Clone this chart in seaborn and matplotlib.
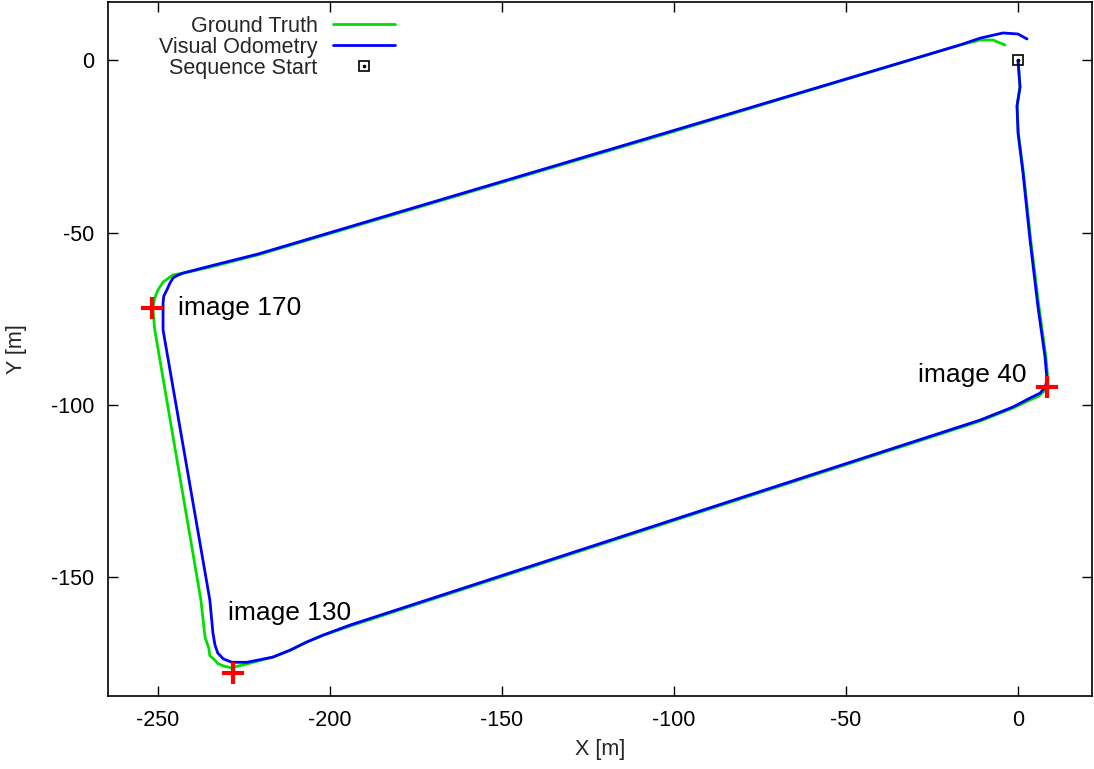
import numpy as np
import pandas as pd
import matplotlib
matplotlib.use("Agg")
import matplotlib.pyplot as plt
import seaborn as sns
from matplotlib.lines import Line2D
from matplotlib.legend_handler import HandlerTuple

# ---- data ----
vo_x = [0.0, 0.58, -0.29, 0.0, 1.45, 3.49, 5.81, 7.85, 8.43, 7.85, 6.40, 3.49, -1.45, -11.0,
        -100.6, -194.2, -202.0, -206.7, -211.6, -216.6, -224.1, -228.5, -231.0, -232.6, -233.4, -234.0, -234.9,
        -248.5, -248.5, -248.3, -247.4, -246.5, -245.6, -244.2, -242.7, -235.8, -220.9, -100.6, -16.9, -11.0,
        -4.36, 0.0, 2.62]
vo_y = [0.0, -7.7, -13.2, -21.1, -32.7, -52.2, -71.7, -86.2, -92.9, -94.9, -96.7, -98.1, -100.7, -104.5,
        -133.6, -164.1, -167.0, -169.0, -171.4, -173.4, -174.9, -174.9, -173.9, -172.2, -169.9, -166.4, -156.8,
        -78.3, -70.5, -68.5, -66.7, -64.7, -63.2, -62.4, -61.8, -60.0, -56.25, -20.5, 4.5, 6.5,
        8.0, 7.7, 6.25]

gt_x = [0.0, 0.58, -0.29, 0.1, 1.6, 3.7, 6.1, 8.1, 8.7, 8.5, 7.85, 6.1, 3.2, -1.45, -11.0,
        -100.6, -194.2, -202.0, -206.7, -211.6, -216.6, -223.8, -228.8, -230.8, -232.6, -233.4, -234.9,
        -235.2, -236.3, -237.5,
        -250.9, -251.5, -250.9, -250.0, -248.5, -245.6, -242.7, -235.8, -220.9, -100.6, -16.9, -11.0, -7.3, -3.8]
gt_y = [0.0, -7.7, -13.2, -21.1, -32.7, -52.2, -71.7, -86.2, -92.9, -94.5, -95.8, -97.5, -98.8, -101.0, -104.8,
        -133.9, -164.4, -167.1, -169.0, -171.4, -173.4, -175.3, -176.5, -176.0, -175.3, -174.3, -173.0,
        -170.8, -167.6, -156.8,
        -78.3, -72.0, -69.0, -66.7, -64.4, -62.3, -61.8, -60.3, -56.5, -20.8, 4.5, 5.95, 5.95, 4.5]

start_x = [0.0]
start_y = [0.0]

mark_labels = ["image 40", "image 130", "image 170"]
mark_x = [8.4, -228.2, -251.7]
mark_y = [-94.8, -178.0, -71.9]
label_x = [2.6, -229.7, -244.2]
label_y = [-91.4, -160.6, -71.9]
label_ha = ["right", "left", "left"]

x_ticks = [-250, -200, -150, -100, -50, 0]
y_ticks = [0, -50, -100, -150]

# ---- style ----
sns.set_style("ticks")
plt.rcParams['font.family'] = ['Liberation Sans', 'DejaVu Sans']
plt.rcParams['axes.unicode_minus'] = False
FS = 15.5

fig = plt.figure(figsize=(10.94, 7.69), dpi=100)
ax = fig.add_axes([108 / 1094, 1 - 696 / 769, (1092 - 108) / 1094, (696 - 2) / 769])

gt = pd.DataFrame({"x": gt_x, "y": gt_y})
vo = pd.DataFrame({"x": vo_x, "y": vo_y})

GREEN = "#00e000"
BLUE = "#0000ff"
LW = 2.0
sns.lineplot(data=gt, x="x", y="y", sort=False, estimator=None, color=GREEN, lw=LW, ax=ax)
sns.lineplot(data=vo, x="x", y="y", sort=False, estimator=None, color=BLUE, lw=LW, ax=ax)

sq, = ax.plot(start_x, start_y, ls="none", marker="s", ms=7.5, mfc="none", mec="black", mew=1.2, zorder=5)
dt, = ax.plot(start_x, start_y, ls="none", marker="o", ms=1.6, mfc="black", mec="black", zorder=5)

ax.plot(mark_x, mark_y, ls="none", marker="+", ms=16, mew=3, color="#ff0000", zorder=6)
for t, lx, ly, ha in zip(mark_labels, label_x, label_y, label_ha):
    ax.text(lx, ly, t, ha=ha, va="center", fontsize=19, color="black")

ax.set_xlim(-264.5, 21.5)
ax.set_ylim(-184.7, 17.0)
ax.set_xticks(x_ticks)
ax.set_yticks(y_ticks)
ax.tick_params(direction="in", length=7, width=1, top=True, right=True,
               labelsize=FS, pad=10, colors="black")
for s in ax.spines.values():
    s.set_linewidth(1.2)
    s.set_color("black")
ax.set_xlabel("X [m]", fontsize=FS, labelpad=6)
ax.set_ylabel("Y [m]", fontsize=FS, labelpad=17)

handles = [Line2D([], [], color=GREEN, lw=LW),
           Line2D([], [], color=BLUE, lw=LW),
           (sq, dt)]
labels = ["Ground Truth", "Visual Odometry", "Sequence Start"]
ax.legend(handles, labels, loc="upper left", bbox_to_anchor=(0.0376, 1.0),
          frameon=False, markerfirst=False, fontsize=FS, handlelength=2.9,
          handletextpad=0.7, labelspacing=0.0, borderaxespad=0.25,
          handler_map={tuple: HandlerTuple(ndivide=1, pad=0)})

fig.savefig("out.png", dpi=100)
